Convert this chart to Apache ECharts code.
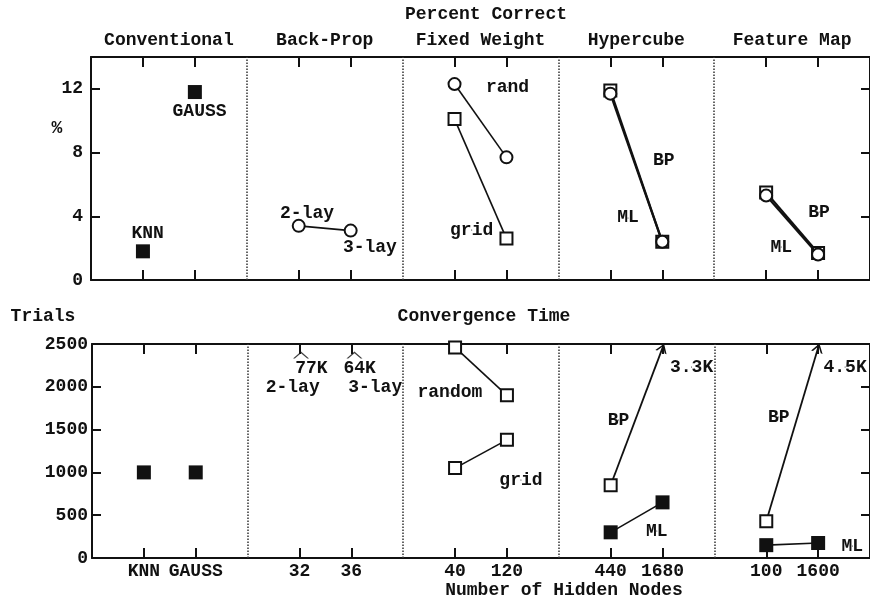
<!DOCTYPE html>
<html><head><meta charset="utf-8">
<script src="https://cdn.jsdelivr.net/npm/echarts@6/dist/echarts.min.js"></script>
<style>html,body{margin:0;padding:0;background:#fff}#c{width:870px;height:600px}</style>
</head><body><div id="c"></div>
<script>
// ---- categories / ticks ----
const sections = ['Conventional', 'Back-Prop', 'Fixed Weight', 'Hypercube', 'Feature Map'];
const sectionCenters = [1.5, 4.5, 7.5, 10.5, 13.5];
const tickPositions = [1, 2, 4, 5, 7, 8, 10, 11, 13, 14];
const tickLabels = ['KNN', 'GAUSS', '32', '36', '40', '120', '440', '1680', '100', '1600'];
const dividers = [3, 6, 9, 12];
const pctTicks = [0, 4, 8, 12];
const trialTicks = [0, 500, 1000, 1500, 2000, 2500];

// ---- Percent Correct ----
const pctConventional = [[1, 1.8], [2, 11.8]];
const pctBackProp = [[4, 3.4], [5, 3.1]];
const pctFixedRand = [[7, 12.3], [8, 7.7]];
const pctFixedGrid = [[7, 10.1], [8, 2.6]];
const pctHyperBP = [[10, 11.9], [11, 2.4]];
const pctHyperML = [[10, 11.7], [11, 2.4]];
const pctFeatBP = [[13, 5.5], [14, 1.7]];
const pctFeatML = [[13, 5.3], [14, 1.6]];
const pctNotes = [
  ['KNN', 1.09, 2.95], ['GAUSS', 2.09, 10.55], ['2-lay', 4.16, 4.2], ['3-lay', 5.37, 2.07],
  ['rand', 8.02, 12.1], ['grid', 7.33, 3.14], ['BP', 11.03, 7.53], ['ML', 10.34, 3.9],
  ['BP', 14.02, 4.27], ['ML', 13.29, 2.07]
];

// ---- Convergence Time (trials) ----
const trConventional = [[1, 1000], [2, 1000]];
const trFixedRandom = [[7, 2460], [8, 1900]];
const trFixedGrid = [[7, 1050], [8, 1380]];
const trHyperBP = [[10, 850]];
const trHyperBPArrow = [[10, 850], [11, 2455]];
const trHyperML = [[10, 300], [11, 650]];
const trFeatBP = [[13, 430]];
const trFeatBPArrow = [[13, 430], [14, 2455]];
const trFeatML = [[13, 150], [14, 175]];
const trOffScale = [[4.03, 2371], [5.06, 2371]];   // "^" off-scale markers (77K, 64K)
const trNotes = [
  ['77K', 4.23, 2215], ['2-lay', 3.87, 1998],
  ['64K', 5.16, 2215], ['3-lay', 5.46, 1998],
  ['random', 6.9, 1928], ['grid', 8.27, 911], ['BP', 10.15, 1612], ['3.3K', 11.56, 2231],
  ['ML', 10.89, 315], ['BP', 13.24, 1647], ['4.5K', 14.52, 2231], ['ML', 14.66, 140]
];

// ---- styling ----
const FONT = "'Liberation Mono', 'DejaVu Sans Mono', monospace";
const INK = '#111';
const textStyle = { fontFamily: FONT, fontWeight: 'bold', fontSize: 18, color: INK };
const chevron = 'path://M0,10 L5,0 L10,10 L8.4,10 L5,3.2 L1.6,10 Z';
const hat = 'path://M0,10 L8,0 L16,10 L14.2,10 L8,2.4 L1.8,10 Z';

function xAxisDef(gridIndex, position, labels) {
  const a = {
    type: 'value', gridIndex, position, min: 0, max: 15, interval: 1,
    axisLine: { show: true, onZero: false, lineStyle: { color: INK, width: 2 } },
    axisTick: { show: true, inside: true, length: 10, customValues: tickPositions, lineStyle: { color: INK, width: 2 } },
    splitLine: { show: false },
    axisLabel: { show: false }
  };
  if (labels) a.axisLabel = Object.assign({ show: true }, labels);
  return a;
}
function yAxisDef(gridIndex, position, min, max, ticks, labels) {
  const a = {
    type: 'value', gridIndex, position, min, max,
    axisLine: { show: true, onZero: false, lineStyle: { color: INK, width: 2 } },
    axisTick: { show: true, inside: true, length: 9, customValues: ticks, lineStyle: { color: INK, width: 2 } },
    splitLine: { show: false },
    axisLabel: { show: false }
  };
  if (labels) a.axisLabel = Object.assign({ show: true, customValues: ticks, formatter: v => String(v) }, labels);
  return a;
}
function lineS(data, symbol, xi, yi, extra) {
  return Object.assign({
    type: 'line', xAxisIndex: xi, yAxisIndex: yi, data,
    symbol, symbolSize: symbol === 'rect' ? 14 : 12,
    itemStyle: { color: INK, borderWidth: 2 },
    lineStyle: { color: INK, width: 1.6 },
    animation: false, silent: true, z: 3
  }, extra || {});
}
function notesS(notes, xi, yi) {
  return {
    type: 'scatter', xAxisIndex: xi, yAxisIndex: yi,
    data: notes.map(n => ({ name: n[0], value: [n[1], n[2]] })),
    symbol: 'circle', symbolSize: 1, itemStyle: { color: INK, opacity: 1 },
    label: Object.assign({ show: true, position: [0.5, 0.5], formatter: p => p.name, align: 'center', verticalAlign: 'middle',
      textBorderWidth: 0, opacity: 1 }, textStyle),
    animation: false, silent: true, z: 6
  };
}
function dividerS(xi, yi) {
  return {
    type: 'line', xAxisIndex: xi, yAxisIndex: yi, data: [], animation: false, silent: true,
    markLine: {
      z: 1, silent: true, symbol: 'none', label: { show: false }, animation: false,
      lineStyle: { color: '#333', width: 1.5, type: [1.5, 1.5] },
      data: dividers.map(v => ({ xAxis: v }))
    }
  };
}
function arrowS(pts, xi, yi) {
  return {
    type: 'line', xAxisIndex: xi, yAxisIndex: yi, data: [], animation: false, silent: true,
    markLine: {
      z: 1, silent: true, symbol: ['none', chevron], symbolSize: [12, 9], label: { show: false }, animation: false,
      lineStyle: { color: INK, width: 1.8, type: 'solid' },
      data: [[{ coord: pts[0] }, { coord: pts[1] }]]
    }
  };
}
function gtext(text, x, y) {
  return { type: 'text', x, y, style: { text, textAlign: 'center', textVerticalAlign: 'middle', font: 'bold 18px ' + FONT, fill: INK } };
}

const option = {
  backgroundColor: '#fff',
  animation: false,
  grid: [
    { left: 91, top: 57, width: 781, height: 223 },
    { left: 92, top: 344, width: 780, height: 214 }
  ],
  xAxis: [
    xAxisDef(0, 'bottom'),
    xAxisDef(0, 'top', Object.assign({ customValues: sectionCenters, margin: 8, formatter: v => sections[sectionCenters.indexOf(v)] }, textStyle)),
    xAxisDef(1, 'bottom', Object.assign({ customValues: tickPositions, margin: 4, formatter: v => tickLabels[tickPositions.indexOf(v)] }, textStyle)),
    xAxisDef(1, 'top')
  ],
  yAxis: [
    yAxisDef(0, 'left', 0, 14, pctTicks, Object.assign({ margin: 8 }, textStyle)),
    yAxisDef(0, 'right', 0, 14, pctTicks),
    yAxisDef(1, 'left', 0, 2500, trialTicks, Object.assign({ margin: 4 }, textStyle)),
    yAxisDef(1, 'right', 0, 2500, trialTicks)
  ],
  graphic: [
    gtext('Percent Correct', 486, 14),
    gtext('Convergence Time', 484, 316),
    gtext('Trials', 43, 316),
    gtext('%', 57, 128),
    gtext('Number of Hidden Nodes', 564, 590)
  ],
  series: [
    dividerS(0, 0),
    dividerS(2, 2),
    // top panel
    lineS(pctConventional, 'rect', 0, 0, { lineStyle: { width: 0, opacity: 0 } }),
    lineS(pctBackProp, 'emptyCircle', 0, 0),
    lineS(pctFixedRand, 'emptyCircle', 0, 0),
    lineS(pctFixedGrid, 'emptyRect', 0, 0),
    lineS(pctHyperBP, 'emptyRect', 0, 0, { lineStyle: { color: INK, width: 2.2 } }),
    lineS(pctHyperML, 'emptyCircle', 0, 0, { lineStyle: { color: INK, width: 2.2 }, z: 4 }),
    lineS(pctFeatBP, 'emptyRect', 0, 0, { lineStyle: { color: INK, width: 2.2 } }),
    lineS(pctFeatML, 'emptyCircle', 0, 0, { lineStyle: { color: INK, width: 2.2 }, z: 4 }),
    notesS(pctNotes, 0, 0),
    // bottom panel
    lineS(trConventional, 'rect', 2, 2, { lineStyle: { width: 0, opacity: 0 } }),
    lineS(trFixedRandom, 'emptyRect', 2, 2),
    lineS(trFixedGrid, 'emptyRect', 2, 2),
    arrowS(trHyperBPArrow, 2, 2),
    lineS(trHyperBP, 'emptyRect', 2, 2),
    lineS(trHyperML, 'rect', 2, 2),
    arrowS(trFeatBPArrow, 2, 2),
    lineS(trFeatBP, 'emptyRect', 2, 2),
    lineS(trFeatML, 'rect', 2, 2),
    {
      type: 'scatter', xAxisIndex: 2, yAxisIndex: 2, data: trOffScale,
      symbol: hat, symbolSize: [16, 7], itemStyle: { color: INK }, animation: false, silent: true, z: 6
    },
    notesS(trNotes, 2, 2)
  ]
};
const chart = echarts.init(document.getElementById('c'), null, { renderer: 'canvas' });
chart.setOption(option);
</script>
</body></html>
